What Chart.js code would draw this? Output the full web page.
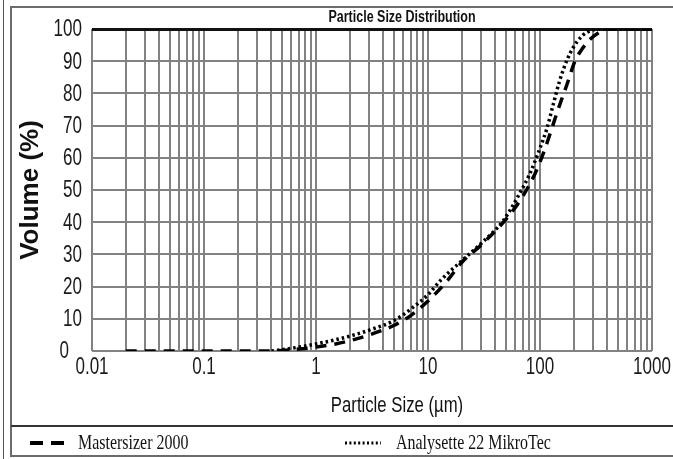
<!DOCTYPE html>
<html>
<head>
<meta charset="utf-8">
<script src="https://cdn.jsdelivr.net/npm/chart.js@4.4.1/dist/chart.umd.min.js"></script>
<style>
  html, body { margin: 0; padding: 0; background: #fff; }
  #wrap { position: relative; width: 673px; height: 459px; }
</style>
</head>
<body>
<div id="wrap"><canvas id="psd" width="673" height="459"></canvas></div>
<script>
// datos
const sizeMaster = [0.02, 0.05, 0.1, 0.2, 0.3, 0.45, 0.6, 0.8, 1, 1.5, 2, 3, 5, 7, 10, 15, 20, 30, 50, 70, 90, 110, 130, 145, 175, 205, 240, 280, 340, 400, 600, 1000];
const volMaster  = [0, 0, 0, 0, 0, 0.1, 0.4, 0.8, 1.2, 2.2, 3.2, 5, 8, 11, 15.5, 22, 27.5, 33, 41, 48, 55, 62.5, 70, 75, 83, 90, 94, 96.8, 99, 100, 100, 100];

const sizeAnaly = [0.4, 0.5, 0.7, 1, 1.5, 2, 3, 5, 7, 10, 13, 20, 30, 47, 66, 81, 100, 115, 130, 150, 175, 200, 240, 290, 340, 500, 1000];
const volAnaly  = [0, 0.4, 1.2, 2.2, 3.5, 4.6, 6.5, 9.5, 13, 17.5, 22, 28, 33.5, 40.5, 49, 55, 63, 69, 76, 84, 90.5, 94.5, 98, 99.6, 100, 100, 100];

const labels = ['Mastersizer 2000', 'Analysette 22 MikroTec'];
const xTickValues = [0.01, 0.1, 1, 10, 100, 1000];
const xTickLabels = ['0.01', '0.1', '1', '10', '100', '1000'];

const sans = '"Liberation Sans", Arial, sans-serif';

// lineas de rejilla: 1..9 por decada
const gridValues = [];
for (let e = -2; e < 3; e++) {
    for (let s = 1; s < 10; s++) gridValues.push(+(s * Math.pow(10, e)).toPrecision(3));
}
gridValues.push(1000);

function puntos(xs, ys) {
    return xs.map((x, i) => ({ x: x, y: ys[i] }));
}

function etiquetaX(v) {
    const i = xTickValues.findIndex(t => Math.abs(Math.log10(t) - Math.log10(v)) < 1e-6);
    return i >= 0 ? xTickLabels[i] : '';
}

// texto comprimido en horizontal, como en la imagen
function texto(c, str, x, y, font, align, sx) {
    c.save();
    c.font = font;
    c.textAlign = align;
    c.textBaseline = 'middle';
    c.translate(x, y);
    c.scale(sx, 1);
    c.fillText(str, 0, 0);
    c.restore();
}

const marco = {
    id: 'marco',
    beforeDraw(chart) {
        const c = chart.ctx;
        c.save();
        c.fillStyle = '#fff';
        c.fillRect(0, 0, chart.width, chart.height);
        c.strokeStyle = '#555';
        c.lineWidth = 1;
        c.beginPath(); c.moveTo(3.5, 0); c.lineTo(3.5, 459); c.stroke();
        c.strokeStyle = '#6b6b6b';
        c.lineWidth = 2;
        c.strokeRect(11, 7, 700, 449);
        c.restore();
    },
    afterDraw(chart) {
        const c = chart.ctx;
        const xs = chart.scales.x, ys = chart.scales.y;
        c.save();
        c.fillStyle = '#1a1a1a';
        // etiquetas de los ejes
        const tickFont = '23px ' + sans;
        ys.ticks.forEach(t => {
            // el 0 queda algo mas a la izquierda para no chocar con 0.01
            const xr = t.value === 0 ? xs.left - 23 : xs.left - 10;
            texto(c, String(t.value), xr, ys.getPixelForValue(t.value) + 1, tickFont, 'right', 0.74);
        });
        xs.ticks.forEach(t => {
            const lab = etiquetaX(t.value);
            if (lab) texto(c, lab, xs.getPixelForValue(t.value), 368, tickFont, 'center', 0.74);
        });
        c.fillStyle = '#111';
        texto(c, 'Particle Size Distribution', 402, 18, 'bold 16px ' + sans, 'center', 0.78);
        texto(c, 'Particle Size (\u00b5m)', 397, 406, '22px ' + sans, 'center', 0.76);
        // separador leyenda
        c.strokeStyle = '#333';
        c.lineWidth = 2;
        c.beginPath(); c.moveTo(11, 426); c.lineTo(673, 426); c.stroke();
        // leyenda
        const items = [{ x0: 30, x1: 66, tx: 78 }, { x0: 345, x1: 381, tx: 396 }];
        chart.data.datasets.forEach((ds, i) => {
            const it = items[i];
            c.strokeStyle = ds.borderColor;
            c.lineWidth = i === 0 ? 4 : 3;
            c.setLineDash(i === 0 ? [13, 8] : [2, 2.4]);
            c.beginPath(); c.moveTo(it.x0, 443); c.lineTo(it.x1, 443); c.stroke();
            c.setLineDash([]);
            c.fillStyle = '#111';
            texto(c, ds.label, it.tx, 443, '21px "Liberation Serif", "Times New Roman", serif', 'left', 0.76);
        });
        c.restore();
    }
};

const ctx = document.getElementById('psd').getContext('2d');
new Chart(ctx, {
    type: 'line',
    data: {
        datasets: [
            {
                label: labels[0],
                data: puntos(sizeMaster, volMaster),
                borderColor: '#000',
                borderWidth: 3.5,
                borderDash: [11, 8],
                pointRadius: 0,
                cubicInterpolationMode: 'monotone',
                fill: false
            },
            {
                label: labels[1],
                data: puntos(sizeAnaly, volAnaly),
                borderColor: '#000',
                borderWidth: 3.5,
                borderDash: [2.5, 3],
                pointRadius: 0,
                cubicInterpolationMode: 'monotone',
                fill: false
            }
        ]
    },
    plugins: [marco],
    options: {
        responsive: false,
        animation: false,
        layout: { padding: { left: 12, top: 29, right: 21, bottom: 0 } },
        plugins: {
            legend: { display: false },
            title: { display: false },
            tooltip: { enabled: false }
        },
        scales: {
            x: {
                type: 'logarithmic',
                min: 0.01,
                max: 1000,
                afterBuildTicks: s => { s.ticks = gridValues.map(v => ({ value: v })); },
                afterFit: s => { s.height = 108; s.paddingLeft = 0; s.paddingRight = 0; },
                border: { display: false },
                grid: {
                    color: '#828282',
                    lineWidth: 2,
                    drawTicks: false
                },
                ticks: { display: false, autoSkip: false, callback: etiquetaX }
            },
            y: {
                min: 0,
                max: 100,
                afterFit: s => { s.width = 80; },
                border: { display: false },
                grid: {
                    color: c => c.tick && c.tick.value === 100 ? '#111' : '#828282',
                    lineWidth: c => c.tick && c.tick.value === 100 ? 3 : 2,
                    drawTicks: false
                },
                ticks: { display: false, stepSize: 10 },
                title: {
                    display: true,
                    text: 'Volume (%)',
                    color: '#111',
                    font: { family: sans, size: 26, weight: 'bold' },
                    padding: { top: 3, bottom: 0 }
                }
            }
        }
    }
});
</script>
</body>
</html>
